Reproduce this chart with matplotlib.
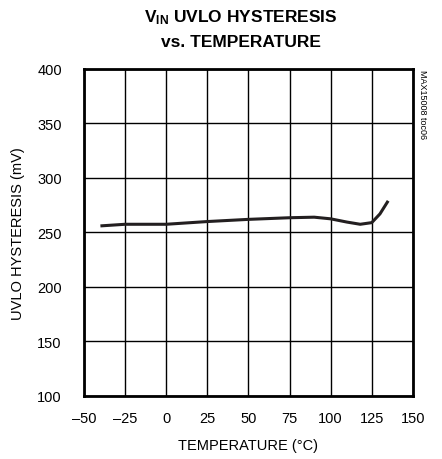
import matplotlib
matplotlib.use("Agg")
import matplotlib.pyplot as plt
from matplotlib import font_manager

names = {f.name for f in font_manager.fontManager.ttflist}
narrow = "Liberation Sans Narrow" if "Liberation Sans Narrow" in names else "Liberation Sans"
plt.rcParams['font.family'] = [narrow, 'DejaVu Sans']
plt.rcParams['mathtext.fontset'] = 'custom'
plt.rcParams['mathtext.rm'] = narrow
plt.rcParams['mathtext.bf'] = narrow + ':bold'

# data
temp = [-40, -25, 0, 25, 50, 75, 90, 100, 110, 118, 125, 130, 135]
hyst = [256, 257.5, 257.5, 260, 262, 263.5, 264, 262.5, 259.5, 257.5, 259, 267, 279]
xticks = [-50, -25, 0, 25, 50, 75, 100, 125, 150]
yticks = [100, 150, 200, 250, 300, 350, 400]

fig = plt.figure(figsize=(4.42, 4.60), dpi=100)
ax = fig.add_axes([0.190, 0.137, 0.744, 0.711])
ax.plot(temp, hyst, color='#231f20', lw=2.2, solid_capstyle='butt')
ax.set_xlim(-50, 150)
ax.set_ylim(100, 400)
ax.set_xticks(xticks)
ax.set_yticks(yticks)
ax.set_xticklabels(['\u2013' + str(-v) if v < 0 else str(v) for v in xticks])
ax.grid(True, color='black', lw=1.0)
ax.tick_params(length=0, labelsize=10.5)
ax.tick_params(axis='x', pad=11)
ax.tick_params(axis='y', pad=16)
for s in ax.spines.values():
    s.set_linewidth(2)
ax.set_xlabel('TEMPERATURE (\u00b0C)', fontsize=10.5, labelpad=9)
ax.set_ylabel('UVLO HYSTERESIS (mV)', fontsize=10.5, labelpad=9)

fig.text(0.545, 0.961, r'$\mathbf{V_{IN}}$ UVLO HYSTERESIS', ha='center', va='center',
         fontsize=12.5, fontweight='bold')
fig.text(0.545, 0.907, 'vs. TEMPERATURE', ha='center', va='center',
         fontsize=12.5, fontweight='bold')
fig.text(0.957, 0.848, 'MAX15008 toc06', rotation=270, ha='center', va='top', fontsize=6.5)

fig.savefig('out.png', dpi=100)
